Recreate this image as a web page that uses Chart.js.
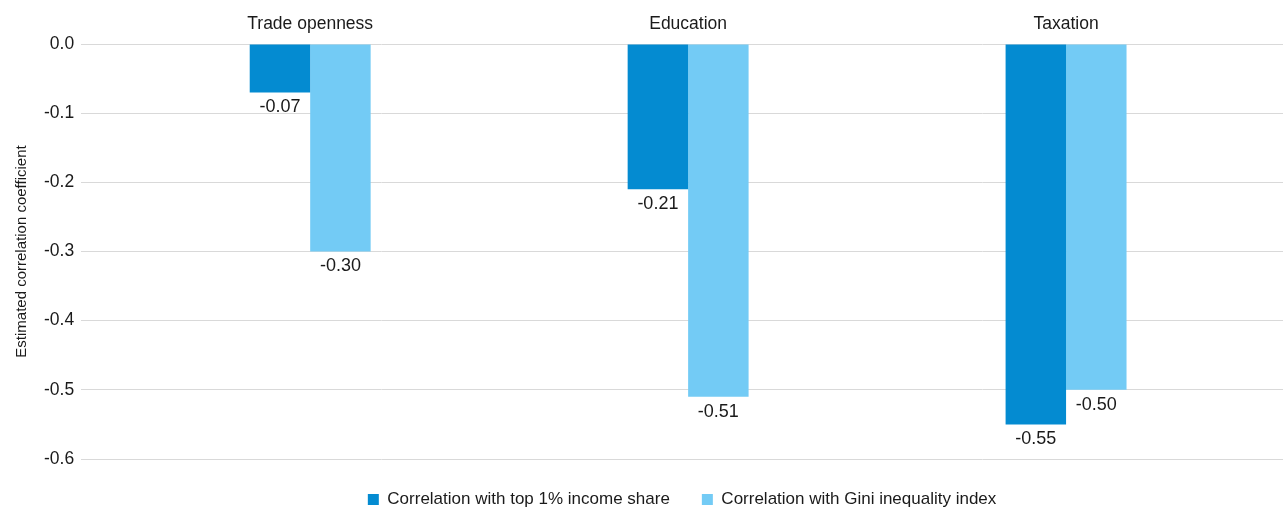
<!DOCTYPE html>
<html>
<head>
<meta charset="utf-8">
<script src="https://cdn.jsdelivr.net/npm/chart.js@4"></script>
<style>
  html, body { margin: 0; padding: 0; background: #fff; }
  #wrap { width: 1283px; height: 509px; }
</style>
</head>
<body>
<div id="wrap"><canvas id="chart"></canvas></div>
<script>
// categories and series
const categories = ["Trade openness", "Education", "Taxation"];
const top1Share = [-0.07, -0.21, -0.55];
const giniIndex = [-0.30, -0.51, -0.50];
const yTicks = [0, -0.1, -0.2, -0.3, -0.4, -0.5, -0.6];

const FONT = '"Liberation Sans", Arial, sans-serif';
const toPoints = vals => vals.map((v, i) => ({ x: i, y: v }));

// labels under each bar end
const barLabels = {
  id: 'barLabels',
  afterDatasetsDraw(chart) {
    const ctx = chart.ctx;
    ctx.save();
    ctx.font = '18px ' + FONT;
    ctx.fillStyle = '#1a1a1a';
    ctx.textAlign = 'center';
    ctx.textBaseline = 'top';
    chart.data.datasets.forEach((ds, di) => {
      chart.getDatasetMeta(di).data.forEach((bar, i) => {
        ctx.fillText(ds.data[i].y.toFixed(2), bar.x, bar.y + 6);
      });
    });
    ctx.restore();
  }
};

new Chart(document.getElementById('chart'), {
  type: 'bar',
  data: {
    datasets: [{
      label: 'Correlation with top 1% income share',
      data: toPoints(top1Share),
      backgroundColor: '#048bd1'
    }, {
      label: 'Correlation with Gini inequality index',
      data: toPoints(giniIndex),
      backgroundColor: '#73cbf5'
    }]
  },
  options: {
    responsive: true,
    maintainAspectRatio: false,
    animation: false,
    categoryPercentage: 0.32,
    barPercentage: 1,
    layout: { padding: { left: 13, right: 0, top: 13, bottom: -9 } },
    scales: {
      x: {
        type: 'linear',
        position: 'top',
        offset: false,
        min: -0.606,
        max: 2.574,
        grid: { display: false },
        border: { display: false },
        afterBuildTicks: axis => { axis.ticks = categories.map((c, i) => ({ value: i })); },
        ticks: {
          autoSkip: false,
          maxRotation: 0,
          padding: 1,
          color: '#1a1a1a',
          font: { family: FONT, size: 17.5 },
          callback: v => categories[v]
        }
      },
      y: {
        min: -0.6,
        max: 0,
        grid: { color: '#d9d9d9', lineWidth: 1, drawTicks: false },
        border: { display: false },
        afterBuildTicks: axis => { axis.ticks = yTicks.map(v => ({ value: v })); },
        ticks: {
          padding: 7,
          color: '#1a1a1a',
          font: { family: FONT, size: 17.5 },
          callback: v => v.toFixed(1)
        },
        title: {
          display: true,
          text: 'Estimated correlation coefficient',
          color: '#1a1a1a',
          padding: { top: 0, bottom: 6 },
          font: { family: FONT, size: 15 }
        }
      }
    },
    plugins: {
      legend: {
        position: 'bottom',
        fullSize: false,
        labels: {
          boxWidth: 11,
          boxHeight: 11,
          padding: 32,
          color: '#1a1a1a',
          font: { family: FONT, size: 17 }
        }
      },
      tooltip: { enabled: false }
    }
  },
  plugins: [barLabels]
});
</script>
</body>
</html>
